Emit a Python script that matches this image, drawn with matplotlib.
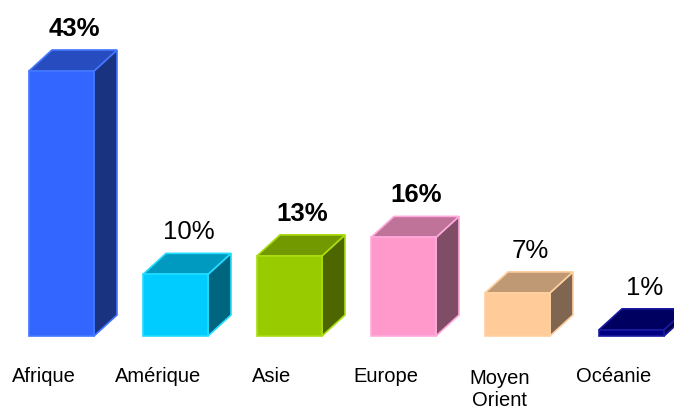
import matplotlib
matplotlib.use("Agg")
import matplotlib.pyplot as plt
from matplotlib.patches import Polygon

categories = ["Afrique", "Amérique", "Asie", "Europe", "Moyen\nOrient", "Océanie"]
values = [43, 10, 13, 16, 7, 1]
labels = ["43%", "10%", "13%", "16%", "7%", "1%"]
bold = [True, False, True, True, False, False]
front_colors = ["#3366FF", "#00CCFF", "#99CC00", "#FF99CC", "#FFCC99", "#000080"]
top_colors = ["#264CBF", "#0099BF", "#739900", "#BF7399", "#BF9973", "#000060"]
side_colors = ["#1A3380", "#006680", "#4D6600", "#804D66", "#806650", "#000040"]
edge_colors = ["#4477FF", "#22DDFF", "#AADD11", "#FFAADD", "#FFD0A0", "#1A1AA0"]

plt.rcParams['font.family'] = ['Liberation Sans', 'DejaVu Sans']

fig = plt.figure(figsize=(6.74, 4.10), dpi=100)
ax = fig.add_axes([0, 73/410, 1, 337/410])
py = 337 / 54.68  # pixels per percent
px = 114.0        # pixels per category
ax.set_ylim(0, 54.68)
ax.set_xlim(-61.5/px, (674-61.5)/px)
ax.axis('off')

w = 65/px
dx = 23/px
dy = 21/py

for i, v in enumerate(values):
    l, r = i - w/2, i + w/2
    front = Polygon([(l, 0), (r, 0), (r, v), (l, v)], closed=True,
                    facecolor=front_colors[i], edgecolor=edge_colors[i], lw=1.2)
    top = Polygon([(l, v), (r, v), (r+dx, v+dy), (l+dx, v+dy)], closed=True,
                  facecolor=top_colors[i], edgecolor=edge_colors[i], lw=1.2)
    side = Polygon([(r, 0), (r+dx, dy), (r+dx, v+dy), (r, v)], closed=True,
                   facecolor=side_colors[i], edgecolor=edge_colors[i], lw=1.2)
    for p in (side, top, front):
        p.set_clip_on(False)
        ax.add_patch(p)
    ax.text(i + 13/px, v + 36/py, labels[i], ha='center', va='baseline',
            fontsize=18.5, fontweight='bold' if bold[i] else 'normal',
            color='black', clip_on=False)
    nlines = categories[i].count('\n') + 1
    ax.text(i - 17.5/px, -(40 + 13*(nlines-1))/py, categories[i], ha='center', va='center',
            fontsize=14.5, color='black', clip_on=False, linespacing=1.2)

fig.savefig("out.png", dpi=100)
